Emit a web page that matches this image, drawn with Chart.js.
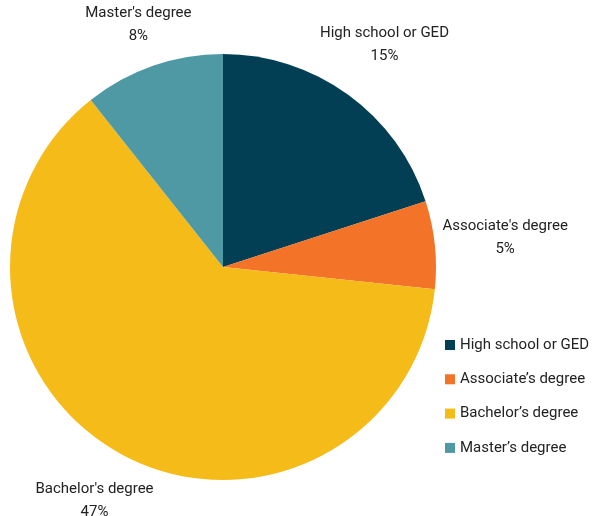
<!DOCTYPE html>
<html>
<head>
<meta charset="utf-8">
<script src="https://cdn.jsdelivr.net/npm/chart.js@4.4.1/dist/chart.umd.min.js"></script>
<style>
  html, body { margin: 0; padding: 0; background: #fff; }
  #wrap { width: 592px; height: 516px; position: relative; }
</style>
</head>
<body>
<div id="wrap"><canvas id="pie-chart"></canvas></div>
<script>
const categories = ["High school or GED", "Associate's degree", "Bachelor's degree", "Master's degree"];
const legendLabels = ["High school or GED", "Associate\u2019s degree", "Bachelor\u2019s degree", "Master\u2019s degree"];
const values = [15, 5, 47, 8];
const percentLabels = ["15%", "5%", "47%", "8%"];
const colors = ["#033f54", "#f37329", "#f5bb19", "#4f99a4"];

const FONT = "15px Roboto";
const TEXT_COLOR = "#222";

// slice labels: name + percent, pushed outside the arc along the mid angle
const outsideLabels = {
  id: 'outsideLabels',
  afterDatasetsDraw(chart) {
    const ctx = chart.ctx;
    const meta = chart.getDatasetMeta(0);
    ctx.save();
    ctx.font = FONT;
    ctx.fillStyle = TEXT_COLOR;
    ctx.textAlign = 'center';
    ctx.textBaseline = 'middle';
    meta.data.forEach((arc, i) => {
      const mid = (arc.startAngle + arc.endAngle) / 2;
      const ux = Math.cos(mid);
      const uy = Math.sin(mid);
      const w = ctx.measureText(categories[i]).width;
      const h = 44;
      const dist = arc.outerRadius + 6 + Math.abs(ux) * w / 2 + Math.abs(uy) * h / 2;
      const cx = arc.x + ux * dist;
      const cy = arc.y + uy * dist;
      ctx.fillText(categories[i], cx, cy - 11);
      ctx.fillText(percentLabels[i], cx, cy + 12);
    });
    ctx.restore();
  }
};

// legend in the lower right corner
const sideLegend = {
  id: 'sideLegend',
  afterDraw(chart) {
    const ctx = chart.ctx;
    ctx.save();
    ctx.font = FONT;
    ctx.textBaseline = 'middle';
    ctx.textAlign = 'left';
    for (let i = 0; i < legendLabels.length; i += 1) {
      const y = 345 + i * 34.3;
      ctx.fillStyle = colors[i];
      ctx.fillRect(445, y - 5, 10, 10);
      ctx.fillStyle = TEXT_COLOR;
      ctx.fillText(legendLabels[i], 460, y);
    }
    ctx.restore();
  }
};

new Chart(document.getElementById("pie-chart"), {
  type: 'pie',
  data: {
    labels: categories,
    datasets: [{
      data: values,
      backgroundColor: colors,
      borderWidth: 0
    }]
  },
  options: {
    responsive: true,
    maintainAspectRatio: false,
    animation: false,
    layout: {
      padding: { left: 10, right: 156, top: 54, bottom: 36 }
    },
    plugins: {
      legend: { display: false },
      tooltip: { enabled: false }
    }
  },
  plugins: [outsideLabels, sideLegend]
});
</script>
</body>
</html>
